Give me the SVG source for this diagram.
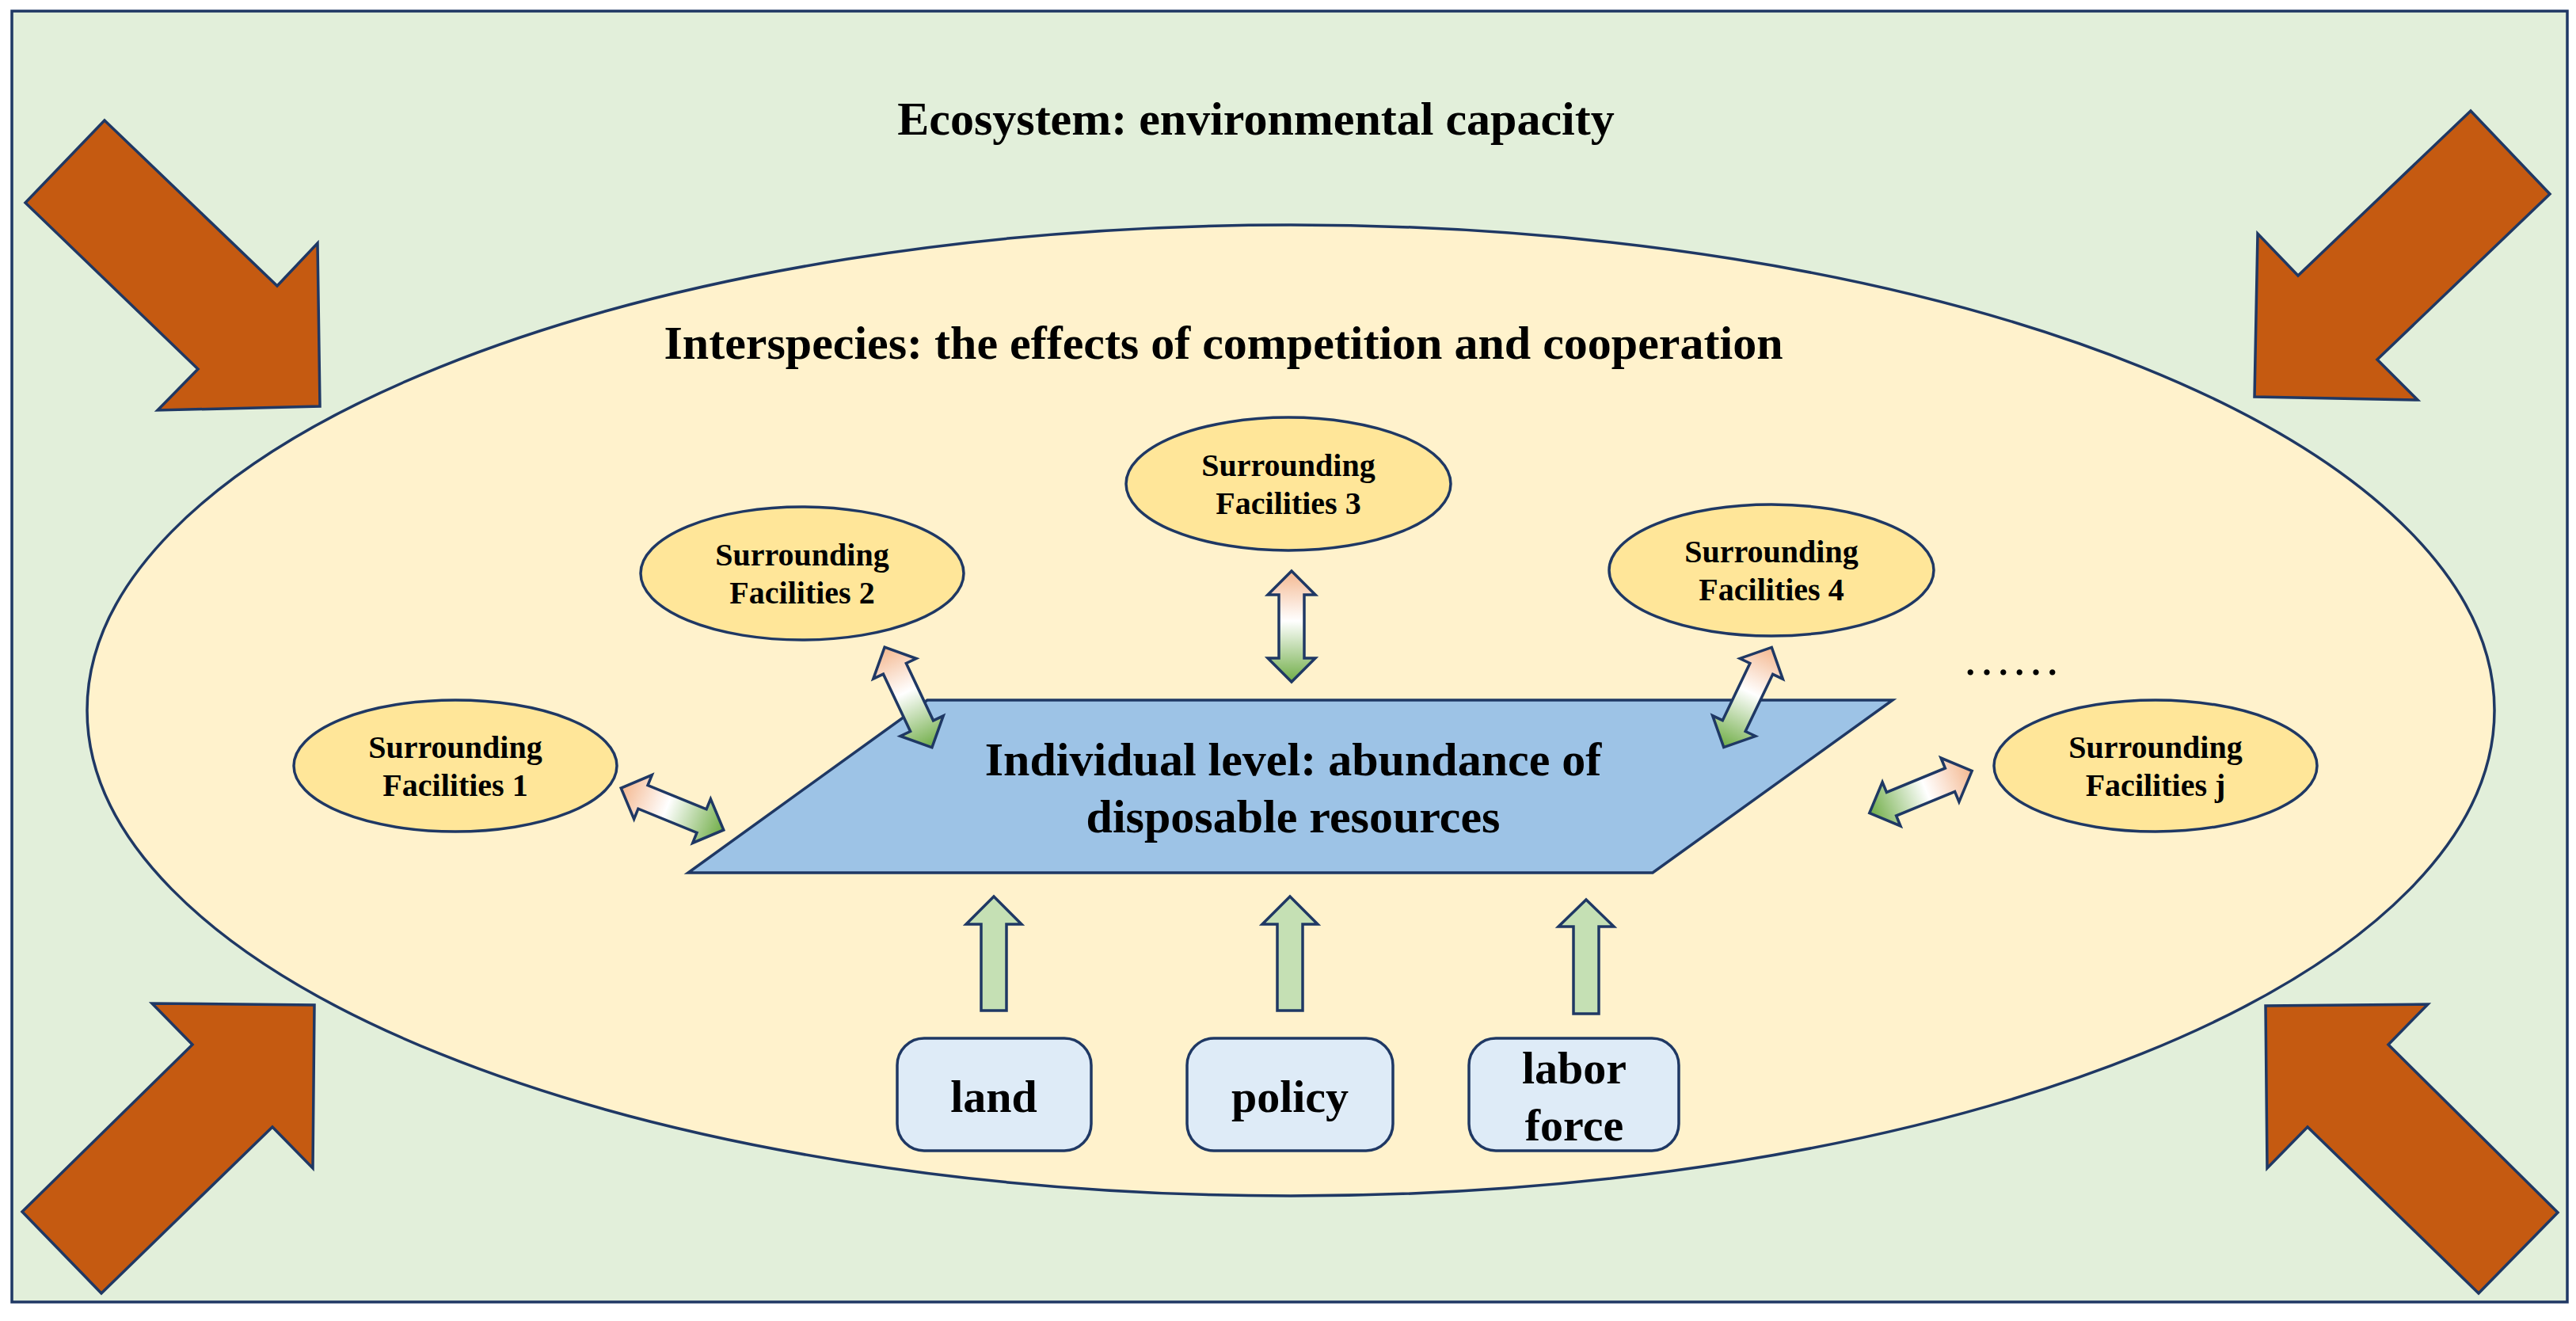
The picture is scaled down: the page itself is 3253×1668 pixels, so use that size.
<svg xmlns="http://www.w3.org/2000/svg" width="3253" height="1668" viewBox="0 0 3253 1668">
<defs>
<style>
.ln{stroke:#1F3864;stroke-width:3.5;stroke-linejoin:miter}
.big{fill:#C55A11}
.fac{fill:#FFE699}
.box{fill:#DEEBF7}
.up{fill:#C5E0B4}
.dbl{fill:url(#g)}
.t{font-family:"Liberation Serif","Times New Roman",serif;font-weight:bold;fill:#000;text-anchor:middle}
.t60{font-size:60px}
.t40{font-size:40px}
.t58{font-size:58px}
</style>
<linearGradient id="g" x1="0" y1="0" x2="1" y2="0">
<stop offset="0" stop-color="#F4B890"/>
<stop offset="0.45" stop-color="#FFFFFF"/>
<stop offset="1" stop-color="#70AD47"/>
</linearGradient>
<path id="da" d="M-70,0 L-40,-30 L-40,-16 L40,-16 L40,-30 L70,0 L40,30 L40,16 L-40,16 L-40,30 Z"/>
</defs>

<g id="frame">
<rect x="15" y="14" width="3227" height="1630" fill="#E2EFDA" class="ln"/>
<text class="t t60" x="1586" y="170">Ecosystem: environmental capacity</text>
</g>

<g id="pressure-arrows">
<polygon class="big ln" points="132,152 350,361 401,307 404,513 199,518 250,466 32,256"/>
<polygon class="big ln" points="3120,140 2902,348 2851,295 2847,501 3053,505 3002,454 3220,245"/>
<polygon class="big ln" points="128,1633 28,1530 243,1319 192,1267 397,1269 395,1475 344,1423"/>
<polygon class="big ln" points="3130,1633 3230,1531 3016,1319 3066,1268 2861,1270 2863,1475 2914,1423"/>
</g>

<g id="interspecies">
<ellipse cx="1630" cy="897" rx="1520" ry="613" fill="#FFF2CC" class="ln"/>
<text class="t t60" x="1545" y="453">Interspecies: the effects of competition and cooperation</text>
</g>

<g id="individual">
<polygon points="1171,884 2390,884 2087,1102 869,1102" fill="#9DC3E6" class="ln"/>
<text class="t t60" x="1633" y="979">Individual level: abundance of</text>
<text class="t t60" x="1633" y="1051">disposable resources</text>
</g>

<g id="facility-1">
<ellipse class="fac ln" cx="575" cy="967" rx="204" ry="83"/>
<text class="t t40" x="575" y="957">Surrounding</text>
<text class="t t40" x="575" y="1005">Facilities 1</text>
</g>
<g id="facility-2">
<ellipse class="fac ln" cx="1013" cy="724" rx="204" ry="84"/>
<text class="t t40" x="1013" y="714">Surrounding</text>
<text class="t t40" x="1013" y="762">Facilities 2</text>
</g>
<g id="facility-3">
<ellipse class="fac ln" cx="1627" cy="611" rx="205" ry="84"/>
<text class="t t40" x="1627" y="601">Surrounding</text>
<text class="t t40" x="1627" y="649">Facilities 3</text>
</g>
<g id="facility-4">
<ellipse class="fac ln" cx="2237" cy="720" rx="205" ry="83"/>
<text class="t t40" x="2237" y="710">Surrounding</text>
<text class="t t40" x="2237" y="758">Facilities 4</text>
</g>
<g id="facility-j">
<ellipse class="fac ln" cx="2722" cy="967" rx="204" ry="83"/>
<text class="t t40" x="2722" y="957">Surrounding</text>
<text class="t t40" x="2722" y="1005">Facilities j</text>
</g>
<g id="ellipsis">
<text x="2478" y="852" font-family="Liberation Serif, serif" font-size="62" fill="#000">……</text>
</g>

<g id="land">
<rect class="box ln" x="1133" y="1311" width="245" height="142" rx="34"/>
<text class="t t58" x="1255" y="1404">land</text>
</g>
<g id="policy">
<rect class="box ln" x="1499" y="1311" width="260" height="142" rx="34"/>
<text class="t t58" x="1629" y="1404">policy</text>
</g>
<g id="labor">
<rect class="box ln" x="1855" y="1311" width="265" height="142" rx="34"/>
<text class="t t58" x="1988" y="1368">labor</text>
<text class="t t58" x="1988" y="1440">force</text>
</g>

<g id="connectors">
<use href="#da" class="dbl ln" transform="translate(849,1021.5) rotate(22.2)"/>
<use href="#da" class="dbl ln" transform="translate(1147,880.5) rotate(64.7)"/>
<use href="#da" class="dbl ln" transform="translate(1631,791) rotate(90)"/>
<use href="#da" class="dbl ln" transform="translate(2207,880.5) rotate(115.6)"/>
<use href="#da" class="dbl ln" transform="translate(2425.5,1000) rotate(157.6)"/>
<polygon class="up ln" points="1255,1132 1290,1167 1271,1167 1271,1276 1239,1276 1239,1167 1220,1167"/>
<polygon class="up ln" points="1629,1132 1664,1167 1645,1167 1645,1276 1613,1276 1613,1167 1594,1167"/>
<polygon class="up ln" points="2003,1136 2038,1170 2019,1170 2019,1280 1987,1280 1987,1170 1968,1170"/>
</g>
</svg>
